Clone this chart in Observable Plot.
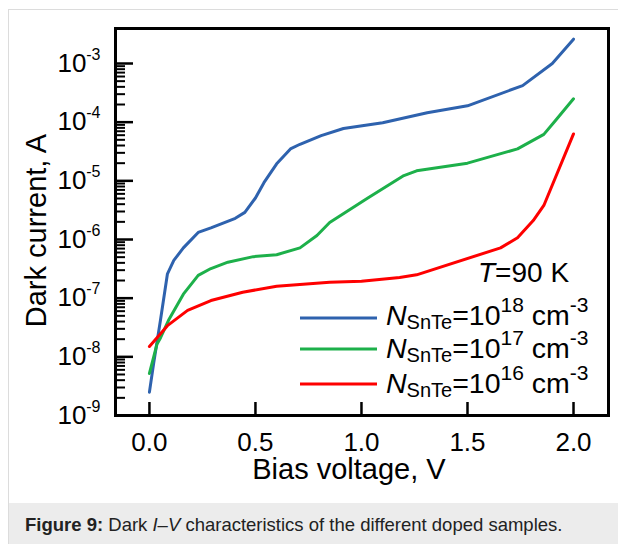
<!DOCTYPE html>
<html><head><meta charset="utf-8">
<script src="https://cdn.jsdelivr.net/npm/d3@7"></script>
<script src="https://cdn.jsdelivr.net/npm/@observablehq/plot@0.6"></script>
<style>
body{margin:0;background:#fff;font-family:"Liberation Sans",Arial,sans-serif;}
#wrap{position:relative;width:618px;height:544px;overflow:hidden;background:#fff;}
#border{position:absolute;left:8px;top:9px;width:700px;height:700px;border:1px solid #dcdcdc;box-sizing:border-box;}
#chart{position:absolute;left:0;top:0;}
#caption{position:absolute;left:9px;top:503px;width:609px;height:41px;background:#ececec;font-size:18.5px;line-height:43px;color:#222;padding-left:16px;box-sizing:border-box;white-space:nowrap;}
</style></head><body>
<div id="wrap"><div id="border"></div><div id="chart"></div>
<div id="caption"><b>Figure 9:</b> Dark <i>I</i>–<i>V</i> characteristics of the different doped samples.</div></div>
<script>
// ---- data (bias voltage V, dark current A) ----
const seriesNames = ["1e18", "1e17", "1e16"];
const seriesExp = ["18", "17", "16"];
const seriesColors = ["#2e62ae", "#1db04a", "#fe0000"];

const vHigh = [0, 0.02, 0.052, 0.085, 0.115, 0.16, 0.23, 0.29, 0.405, 0.45, 0.50, 0.54, 0.60, 0.665, 0.71, 0.81, 0.915, 1.10, 1.31, 1.50, 1.76, 1.90, 2.00];
const iHigh = [2.5e-9, 7.8e-9, 4.2e-8, 2.6e-7, 4.4e-7, 7.2e-7, 1.32e-6, 1.58e-6, 2.3e-6, 2.9e-6, 5.1e-6, 9.3e-6, 1.95e-5, 3.5e-5, 4.2e-5, 5.9e-5, 7.8e-5, 9.8e-5, 1.45e-4, 1.9e-4, 4.2e-4, 1.0e-3, 2.6e-3];

const vMid = [0, 0.036, 0.052, 0.09, 0.16, 0.23, 0.29, 0.37, 0.49, 0.60, 0.71, 0.79, 0.85, 1.03, 1.20, 1.26, 1.50, 1.736, 1.86, 1.915, 2.00];
const iMid = [5.2e-9, 1.66e-8, 2.1e-8, 4.2e-8, 1.17e-7, 2.45e-7, 3.2e-7, 4.1e-7, 5.1e-7, 5.5e-7, 7.2e-7, 1.17e-6, 1.95e-6, 5.1e-6, 1.23e-5, 1.48e-5, 2.0e-5, 3.5e-5, 6.2e-5, 1.07e-4, 2.5e-4];

const vLow = [0, 0.085, 0.18, 0.29, 0.44, 0.60, 0.85, 1.00, 1.18, 1.26, 1.656, 1.736, 1.81, 1.86, 2.00];
const iLow = [1.5e-8, 3.4e-8, 6.2e-8, 9.1e-8, 1.26e-7, 1.6e-7, 1.86e-7, 1.95e-7, 2.25e-7, 2.5e-7, 7.2e-7, 1.07e-6, 2.1e-6, 3.8e-6, 6.3e-5];

const xTicks = [0, 0.5, 1, 1.5, 2];
const xTickLabels = ["0.0", "0.5", "1.0", "1.5", "2.0"];
const yMajor = [1e-9, 1e-8, 1e-7, 1e-6, 1e-5, 1e-4, 1e-3];
const yExponents = ["-9", "-8", "-7", "-6", "-5", "-4", "-3"];
const yMinor = yMajor.slice(0, -1).flatMap(m => [2,3,4,5,6,7,8,9].map(k => k * m));

const toRows = (vs, is, name) => vs.map((v, j) => ({v, i: is[j], name}));
const rows = [
  ...toRows(vHigh, iHigh, seriesNames[0]),
  ...toRows(vMid, iMid, seriesNames[1]),
  ...toRows(vLow, iLow, seriesNames[2])
];

const FONT = '"Liberation Sans", Arial, sans-serif';
const W = 618, H = 503, ML = 115, MR = 10, MT = 28, MB = 88;
const plotW = W - ML - MR, plotH = H - MT - MB;

const plot = Plot.plot({
  width: W, height: H,
  marginLeft: ML, marginRight: MR, marginTop: MT, marginBottom: MB,
  style: {fontFamily: FONT, background: "transparent", overflow: "visible", color: "#000"},
  x: {domain: [-0.16, 2.165], axis: null},
  y: {type: "log", domain: [1e-9, 3.95e-3], axis: null},
  color: {domain: seriesNames, range: seriesColors},
  marks: [
    Plot.line(rows, {x: "v", y: "i", z: "name", stroke: "name", strokeWidth: 3, strokeLinejoin: "round", strokeLinecap: "round"}),
    // inward ticks
    Plot.ruleY(yMajor, {y: d => d, insetRight: plotW - 18, stroke: "#000", strokeWidth: 2.5}),
    Plot.tickY(yMinor, {y: d => d, insetRight: plotW - 10, stroke: "#000", strokeWidth: 2}),
    Plot.ruleX(xTicks, {x: d => d, insetTop: plotH - 13, stroke: "#000", strokeWidth: 2.5}),
    // y tick labels: "10" plus superscript exponent
    Plot.text(yMajor, {y: d => d, text: () => "10", frameAnchor: "left", textAnchor: "end", dx: -29, fontSize: 26, fill: "#000"}),
    Plot.text(yMajor, {y: d => d, text: d => yExponents[yMajor.indexOf(d)], frameAnchor: "left", textAnchor: "end", dx: -15, dy: -9, fontSize: 16, fill: "#000"}),
    // x tick labels
    Plot.text(xTicks, {x: d => d, text: d => xTickLabels[xTicks.indexOf(d)], frameAnchor: "bottom", lineAnchor: "top", dy: 17, fontSize: 26, fill: "#000"}),
    Plot.frame({stroke: "#000", strokeWidth: 3})
  ]
});
document.getElementById("chart").appendChild(plot);

const svg = d3.select(plot);

// axis titles
svg.append("text").attr("transform", "translate(46,230.5) rotate(-90)")
  .attr("text-anchor", "middle").attr("font-size", 29).attr("fill", "#000").text("Dark current, A");
svg.append("text").attr("x", 349).attr("y", 479)
  .attr("text-anchor", "middle").attr("font-size", 29).attr("fill", "#000").text("Bias voltage, V");

// annotation
const ann = svg.append("text").attr("x", 478).attr("y", 282).attr("text-anchor", "start")
  .attr("font-size", 28).attr("fill", "#000");
ann.append("tspan").attr("font-style", "italic").text("T");
ann.append("tspan").text("=90\u00a0K");

// legend
const legY = [318, 349, 384];
const legBase = [325, 358, 392.5];
seriesNames.forEach((n, k) => {
  svg.append("line").attr("x1", 300).attr("x2", 377).attr("y1", legY[k]).attr("y2", legY[k])
    .attr("stroke", seriesColors[k]).attr("stroke-width", 3);
  const t = svg.append("text").attr("x", 386).attr("y", legBase[k]).attr("text-anchor", "start")
    .attr("font-size", 28.5).attr("fill", "#000");
  t.append("tspan").attr("font-style", "italic").text("N");
  t.append("tspan").attr("font-size", 20).attr("dy", 4).text("SnTe");
  t.append("tspan").attr("dy", -4).text("=10");
  t.append("tspan").attr("font-size", 21).attr("dy", -13).text(seriesExp[k]);
  t.append("tspan").attr("dy", 13).text("\u00a0cm");
  t.append("tspan").attr("font-size", 21).attr("dy", -13).text("-3");
});
</script>
</body></html>
